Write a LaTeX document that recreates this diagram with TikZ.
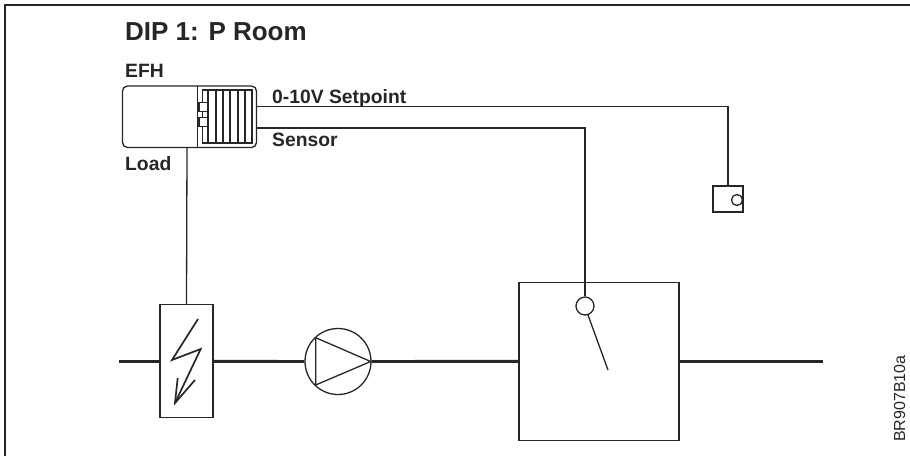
\documentclass[tikz,border=0pt]{standalone}
\usepackage{fontspec}
\setmainfont{Liberation Sans}
\tikzset{
 thin line/.style={draw=black!85,line width=1.3pt},
 thick line/.style={draw=black!85,line width=2.9pt},
 lab/.style={font=\bfseries\fontsize{19.3}{22}\selectfont,text=black!85,inner sep=0pt,anchor=base west}
}
\begin{document}
\begin{tikzpicture}[x=1pt,y=-1pt]
\useasboundingbox (0,0) rectangle (910,456);
\draw[thin line,line width=1.6pt] (5,456) -- (5,5) -- (910,5);
\node[lab,font=\bfseries\fontsize{26}{30}\selectfont] (title) at (125,40) {DIP 1: P Room};
\node[lab] (efh) at (125,77) {EFH};
\node[lab] (setp) at (272,103) {0-10V Setpoint};
\node[lab] (sens) at (272,146.5) {Sensor};
\node[lab] (load) at (125,170.5) {Load};
\node[rotate=90,anchor=base west,inner sep=0pt,font=\fontsize{16}{18}\selectfont,text=black!85] (code) at (905,442) {BR907B10a};
% EFH
\draw[thin line,rounded corners=5pt] (122.5,86) rectangle (256.5,147.5);
\draw[thin line] (197.5,86) -- (197.5,147.5);
\draw[thin line] (202.7,90) rectangle (252,143);
\foreach \x in {208,216,223,230,238,245}{\draw[thin line] (\x,90) -- (\x,143);}
\node[thin line,fill=white,minimum width=9pt,minimum height=9pt,inner sep=0pt] (k1) at (203.5,107) {};
\node[thin line,fill=white,minimum width=9pt,minimum height=9pt,inner sep=0pt] (k2) at (203.5,122) {};
% setpoint device
\node[thin line,minimum width=30pt,minimum height=26pt,inner sep=0pt] (dev) at (728,199) {};
\node[thin line,circle,minimum size=11pt,inner sep=0pt] (devc) at (737,200) {};
% heater, pump, duct
\node[thin line,minimum width=53pt,minimum height=113pt,inner sep=0pt] (heat) at (186.5,361.3) {};
\node[thin line,circle,minimum size=66pt,inner sep=0pt] (pump) at (338,361.5) {};
\node[thin line,minimum width=160pt,minimum height=158pt,inner sep=0pt] (duct) at (599,361.3) {};
\node[thin line,circle,minimum size=18pt,inner sep=0pt] (sw) at (585,306) {};
\coordinate (a0) at (119,361.3);
\coordinate (a1) at (823,361.3);
\coordinate (ef) at (256.5,106.5);
\coordinate (es) at (256.5,128);
\coordinate (eb) at (187,147.5);
\coordinate (setc) at (728,106.5);
\coordinate (senc) at (585,128);
\coordinate (swa) at (588,315);
\coordinate (swe) at (608,370);
\draw[thick line] (a0) -- (heat.west);
\draw[thick line] (heat.east) -- (pump.west);
\draw[thick line] (pump.east) -- (duct.west);
\draw[thick line] (duct.east) -- (a1);
\draw[thin line] (eb) -- (heat.north);
\draw[thin line] (ef) -- (setc) -- (dev.north);
\draw[thin line] (es) -- (senc) -- (sw.north);
\draw[thin line] (swa) -- (swe);
% pump triangle
\draw[thin line,line join=round] (315.7,337.7) -- (370.7,361.5) -- (315.7,385) -- cycle;
% lightning
\draw[thin line,line width=1.7pt] (198,319) -- (172,360) -- (200.7,349) -- (175,403);
\draw[thin line,line width=1.7pt] (177.7,378) -- (175,403) -- (195,380);
\end{tikzpicture}
\end{document}
